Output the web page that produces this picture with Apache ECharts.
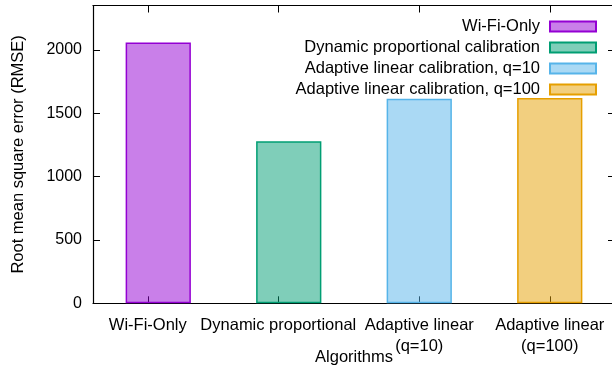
<!DOCTYPE html>
<html>
<head>
<meta charset="utf-8">
<script src="https://cdn.jsdelivr.net/npm/echarts@6/dist/echarts.min.js"></script>
<style>
  html, body { margin: 0; padding: 0; background: #fff; }
  #chart { width: 612px; height: 368px; }
</style>
</head>
<body>
<div id="chart"></div>
<script>
var algorithms = ['Wi-Fi-Only', 'Dynamic proportional calibration', 'Adaptive linear calibration, q=10', 'Adaptive linear calibration, q=100'];
var rmse = [2058, 1278, 1615, 1620];
var barColors = ['#9400d3', '#009e73', '#56b4e9', '#e69f00'];
var barFills = ['rgba(148,0,211,0.5)', 'rgba(0,158,115,0.5)', 'rgba(86,180,233,0.5)', 'rgba(230,159,0,0.5)'];
var xTickPos = [-0.08, 0.92, 2, 3];
var xTickLabels = ['Wi-Fi-Only', 'Dynamic proportional', 'Adaptive linear\n(q=10)', 'Adaptive linear\n(q=100)'];
var yTicks = [0, 500, 1000, 1500, 2000];

var font = 'Liberation Sans';
var myChart = echarts.init(document.getElementById('chart'));

var series = algorithms.map(function (name, i) {
    var data = algorithms.map(function (n, j) { return j === i ? rmse[j] : '-'; });
    return {
        name: name,
        type: 'bar',
        xAxisIndex: 0,
        yAxisIndex: 0,
        barWidth: '50%',
        barGap: '-100%',
        data: data,
        itemStyle: { color: barFills[i], borderColor: barColors[i], borderWidth: 1.5 },
        emphasis: { disabled: true }
    };
});

var tickStyle = { show: true, inside: true, length: 7, lineStyle: { color: '#000', width: 1 } };
var lineStyle = { show: true, onZero: false, lineStyle: { color: '#000', width: 1.2 } };

var option = {
    animation: false,
    backgroundColor: '#fff',
    textStyle: { fontFamily: font },
    grid: { left: 93, right: -3, top: 5.5, bottom: 64.7, containLabel: false, outerBoundsMode: 'none' },
    legend: {
        orient: 'vertical',
        right: 15,
        top: 16,
        padding: 0,
        align: 'right',
        itemWidth: 46,
        itemHeight: 10,
        itemGap: 0,
        icon: 'rect',
        textStyle: { fontFamily: font, fontSize: 16.5, color: '#000', lineHeight: 21, padding: [0, 5, 0, 0] },
        data: algorithms
    },
    xAxis: [
        {
            type: 'category',
            data: algorithms,
            boundaryGap: true,
            show: false
        },
        {
            type: 'value',
            position: 'bottom',
            min: -0.5,
            max: 3.5,
            name: 'Algorithms',
            nameLocation: 'middle',
            nameGap: 46,
            nameMoveOverlap: false,
            nameTextStyle: { fontFamily: font, fontSize: 16.5, color: '#000' },
            axisLine: lineStyle,
            axisTick: Object.assign({ customValues: xTickPos }, tickStyle),
            axisLabel: {
                customValues: xTickPos,
                margin: 12,
                fontFamily: font,
                fontSize: 16.5,
                color: '#000',
                lineHeight: 21,
                formatter: function (v) {
                    var i = xTickPos.indexOf(v);
                    return i >= 0 ? xTickLabels[i] : '';
                }
            },
            splitLine: { show: false }
        },
        {
            type: 'value',
            position: 'top',
            min: -0.5,
            max: 3.5,
            axisLine: lineStyle,
            axisTick: Object.assign({ customValues: xTickPos }, tickStyle),
            axisLabel: { show: false },
            splitLine: { show: false }
        }
    ],
    yAxis: [
        {
            type: 'value',
            position: 'left',
            min: 0,
            max: 2350,
            name: 'Root mean square error (RMSE)',
            nameLocation: 'middle',
            nameRotate: 90,
            nameGap: 66,
            nameMoveOverlap: false,
            nameTextStyle: { fontFamily: font, fontSize: 16.5, color: '#000' },
            axisLine: lineStyle,
            axisTick: Object.assign({ customValues: yTicks }, tickStyle),
            axisLabel: {
                customValues: yTicks, margin: 11, fontFamily: font, fontSize: 16, color: '#000',
                formatter: function (v) { return String(v); }
            },
            splitLine: { show: false }
        },
        {
            type: 'value',
            position: 'right',
            min: 0,
            max: 2350,
            axisLine: lineStyle,
            axisTick: Object.assign({ customValues: yTicks }, tickStyle),
            axisLabel: { show: false },
            splitLine: { show: false }
        }
    ],
    series: series
};
myChart.setOption(option);
</script>
</body>
</html>
